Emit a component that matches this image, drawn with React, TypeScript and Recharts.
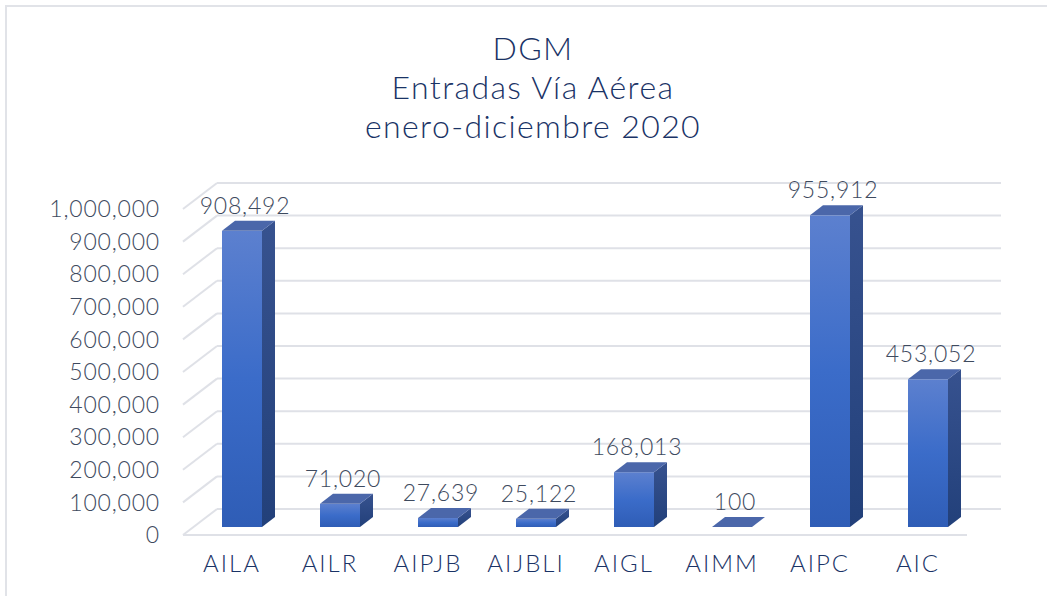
import React from 'react';
import { BarChart, Bar, XAxis, YAxis, CartesianGrid, LabelList } from 'recharts';

const categories = ['AILA', 'AILR', 'AIPJB', 'AIJBLI', 'AIGL', 'AIMM', 'AIPC', 'AIC'];
const entradas = [908492, 71020, 27639, 25122, 168013, 100, 955912, 453052];
const yTicks = [0, 100000, 200000, 300000, 400000, 500000, 600000, 700000, 800000, 900000, 1000000];
const titleLines = ['DGM', 'Entradas Vía Aérea', 'enero-diciembre 2020'];

const data = categories.map((c, i) => ({ name: c, value: entradas[i] }));

const FONT = 'Lato, "Open Sans", sans-serif';
const W = 1047;
const H = 596;
const M = { top: 209, right: 80, bottom: 21, left: 0 };
const XAXIS_H = 40;
const PLOT_BOTTOM = H - M.bottom - XAXIS_H;
const WALL_DX = 34;
const WALL_DY = 26;
const BAR_DX = 10;
const BAR_DY = 8;
const DEPTH_X = 13;
const DEPTH_Y = 10;

const fmt = (v: number) => v.toLocaleString('en-US');

const GridLine = (p: any) => {
  const { x1, y1, x2, y2 } = p;
  const stroke = '#dfe1e7';
  const isFloor = Math.abs(y1 - PLOT_BOTTOM) < 1;
  return (
    <g key={p.key ?? `g-${y1}`}>
      <line x1={x1} y1={y1} x2={x1 + WALL_DX} y2={y1 - WALL_DY} stroke={stroke} strokeWidth={2} />
      <line x1={x1 + WALL_DX} y1={y1 - WALL_DY} x2={x2 + WALL_DX} y2={y2 - WALL_DY} stroke={stroke} strokeWidth={2} />
      {isFloor && <line x1={x1} y1={y1} x2={x2} y2={y2} stroke={stroke} strokeWidth={2} />}
    </g>
  );
};

const Bar3D = (p: any) => {
  const { x, y, width, height, index } = p;
  const fx = x + BAR_DX;
  const fy = y - BAR_DY;
  const h = Math.max(height, 0);
  const id = `bar3d-${index}`;
  return (
    <g>
      <defs>
        <linearGradient id={`${id}-f`} x1="0" y1="0" x2="0" y2="1">
          <stop offset="0%" stopColor="#5c80cf" />
          <stop offset="50%" stopColor="#3b6cc9" />
          <stop offset="100%" stopColor="#2f5db6" />
        </linearGradient>
        <linearGradient id={`${id}-s`} x1="0" y1="0" x2="0" y2="1">
          <stop offset="0%" stopColor="#37528f" />
          <stop offset="100%" stopColor="#22407a" />
        </linearGradient>
      </defs>
      {h > 0.5 && <rect x={fx} y={fy} width={width} height={h} fill={`url(#${id}-f)`} />}
      {h > 0.5 && (
        <polygon
          points={`${fx + width},${fy} ${fx + width + DEPTH_X},${fy - DEPTH_Y} ${fx + width + DEPTH_X},${fy + h - DEPTH_Y} ${fx + width},${fy + h}`}
          fill={`url(#${id}-s)`}
        />
      )}
      <polygon
        points={`${fx},${fy} ${fx + DEPTH_X},${fy - DEPTH_Y} ${fx + width + DEPTH_X},${fy - DEPTH_Y} ${fx + width},${fy}`}
        fill="#4b67aa"
      />
    </g>
  );
};

const ValueLabel = (p: any) => {
  const { x, y, width, value } = p;
  return (
    <text
      x={x + width / 2 + BAR_DX + 3}
      y={y - BAR_DY - 17}
      textAnchor="middle"
      fontFamily={FONT}
      fontWeight={300}
      fontSize={23}
      letterSpacing={0.8}
      fill="#3e4a5e"
    >
      {fmt(value)}
    </text>
  );
};

export default function App() {
  return (
    <div style={{ position: 'absolute', left: 0, top: 0, width: W, height: H, background: '#fff', overflow: 'hidden' }}>
      <div
        style={{
          position: 'absolute',
          left: 5,
          top: 5,
          width: W - 5,
          height: H - 5,
          borderTop: '2px solid #e1e3e8',
          borderLeft: '2px solid #e1e3e8',
          boxSizing: 'border-box',
        }}
      />
      <div
        style={{
          position: 'absolute',
          left: 283,
          top: 28,
          width: 500,
          textAlign: 'center',
          fontFamily: FONT,
          fontWeight: 300,
          fontSize: 32,
          lineHeight: '39px',
          letterSpacing: '1.4px',
          color: '#1a3366',
        }}
      >
        {titleLines.map((t) => (
          <div key={t}>{t}</div>
        ))}
      </div>
      <div style={{ position: 'absolute', left: 0, top: 0 }}>
        <BarChart width={W} height={H} data={data} margin={M} barSize={40}>
          <CartesianGrid vertical={false} horizontal={GridLine as any} />
          <XAxis
            dataKey="name"
            height={XAXIS_H}
            tickLine={false}
            axisLine={false}
            tickMargin={14}
            interval={0}
            tick={{ fontFamily: FONT, fontWeight: 300, fontSize: 24, fill: '#1a3366', letterSpacing: 2 } as any}
          />
          <YAxis
            width={183}
            domain={[0, 1000000]}
            ticks={yTicks}
            tickFormatter={fmt}
            tickLine={false}
            axisLine={false}
            tickMargin={17}
            interval={0}
            tick={{ fontFamily: FONT, fontWeight: 300, fontSize: 23, fill: '#3e4a5e', letterSpacing: 0.8 } as any}
          />
          <Bar dataKey="value" shape={Bar3D as any} isAnimationActive={false}>
            <LabelList dataKey="value" content={ValueLabel as any} />
          </Bar>
        </BarChart>
      </div>
    </div>
  );
}
